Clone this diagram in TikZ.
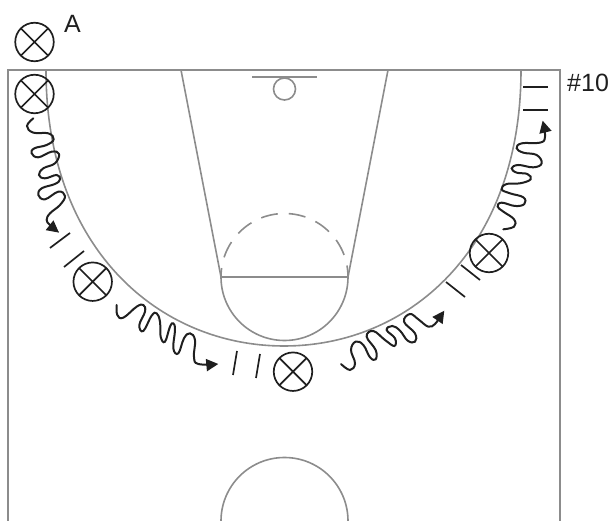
\documentclass[tikz,border=0pt]{standalone}
\usepackage{fontspec}
\setmainfont{Liberation Sans}
\usetikzlibrary{arrows.meta}
\definecolor{courtgray}{gray}{0.55}
\definecolor{ink}{gray}{0.12}
\tikzset{
  court/.style={draw=courtgray,line width=1.6pt},
  border/.style={draw=courtgray,line width=2.4pt},
  player/.style={circle,draw=ink,line width=1.7pt,minimum size=38.5pt,inner sep=0pt,fill=none,
    path picture={\draw[ink,line width=1.7pt]
      (path picture bounding box.north west)--(path picture bounding box.south east)
      (path picture bounding box.north east)--(path picture bounding box.south west);}},
  screenbar/.style={draw=ink,line width=1.7pt},
  wiggle/.style={draw=ink,line width=2pt,line cap=round,-{Triangle[length=12pt,width=12pt]}},
  label/.style={font=\fontsize{25}{25}\selectfont,text=ink,inner sep=0pt},
}
\begin{document}
\begin{tikzpicture}[x=1pt,y=-1pt]
\useasboundingbox (0,0) rectangle (611,521);
% court
\draw[border] (8,521) -- (8,70) -- (560,70) -- (560,521);
\draw[court] (181,70) -- (221,277);
\draw[court] (388,70) -- (348,277);
\draw[court] (221,277) -- (348,277);
\draw[court] (221,277) arc[start angle=180,end angle=0,radius=63.5];
\draw[court,dash pattern=on 17pt off 11pt,dash phase=8pt] (221,277) arc[start angle=180,end angle=360,radius=63.5];
\draw[court] (252,77) -- (317,77);
\draw[court] (284.5,89) circle[radius=11];
\draw[court] (46,70) .. controls (46,250) and (160,346) .. (284,346)
             .. controls (408,346) and (521,250) .. (521,70);
\draw[court] (221,521) arc[start angle=180,end angle=360,radius=63.5];
% players
\node[player] (pa) at (34.5,42) {};
\node[player] (pb) at (34.5,94) {};
\node[player] (pc) at (92.7,281.7) {};
\node[player] (pd) at (293,371.7) {};
\node[player] (pe) at (489,253) {};
% labels
\node[label,anchor=base west] (la) at (64,33) {A};
\node[label,anchor=base west] (lb) at (567,92) {\#10};
% screens
\draw[screenbar] (50,248) -- (70,233);
\draw[screenbar] (64,267) -- (84,251);
\draw[screenbar] (233,375) -- (237,351);
\draw[screenbar] (256,378) -- (260,354);
\draw[screenbar] (446,282) -- (465,297);
\draw[screenbar] (461,265) -- (480,280);
\draw[screenbar] (523,87) -- (548,87);
\draw[screenbar] (523,110) -- (548,110);
% dribbles
\begin{scope}[shift={(15,110)},x=0.3333pt,y=-0.3333pt]
\coordinate (d1s) at (55,25); \coordinate (d1e) at (132,368);
\draw[wiggle] plot[smooth,tension=0.7] coordinates {(d1s)(36,48)(55,68)(100,70)(116,88)(95,105)(58,115)(50,130)(70,142)(110,125)(132,132)(120,160)(85,175)(72,195)(90,205)(125,195)(135,208)(120,222)(80,235)(70,255)(90,268)(130,245)(150,258)(135,285)(105,310)(95,330)(105,345)(d1e)};
\end{scope}
\begin{scope}[shift={(110,295)},x=0.3333pt,y=-0.3333pt]
\coordinate (d2s) at (20,30); \coordinate (d2e) at (325,207);
\draw[wiggle] plot[smooth,tension=0.7] coordinates {(d2s)(22,60)(40,68)(80,35)(100,30)(105,50)(88,90)(100,108)(125,62)(140,55)(150,80)(152,125)(165,140)(180,95)(190,85)(195,105)(190,160)(205,175)(222,130)(240,115)(255,135)(252,185)(265,207)(d2e)};
\end{scope}
\begin{scope}[shift={(335,300)},x=0.3333pt,y=-0.3333pt]
\coordinate (d3s) at (18,192); \coordinate (d3e) at (328,32);
\draw[wiggle] plot[smooth,tension=0.7] coordinates {(d3s)(45,210)(60,190)(48,150)(62,125)(85,135)(105,172)(122,178)(122,150)(95,110)(115,93)(150,120)(178,138)(180,115)(155,90)(172,78)(195,92)(218,122)(240,125)(240,100)(207,65)(225,42)(250,58)(280,80)(300,72)(312,55)(d3e)};
\end{scope}
\begin{scope}[shift={(490,110)},x=0.3333pt,y=-0.3333pt]
\coordinate (d4s) at (40,358); \coordinate (d4e) at (158,32);
\draw[wiggle] plot[smooth,tension=0.7] coordinates {(d4s)(72,350)(72,328)(40,305)(23,290)(35,278)(75,288)(103,282)(100,262)(60,250)(35,238)(50,222)(90,220)(122,208)(112,192)(80,188)(65,175)(85,165)(130,172)(155,160)(140,135)(100,128)(80,115)(95,100)(150,98)(165,80)(d4e)};
\end{scope}
\end{tikzpicture}
\end{document}
